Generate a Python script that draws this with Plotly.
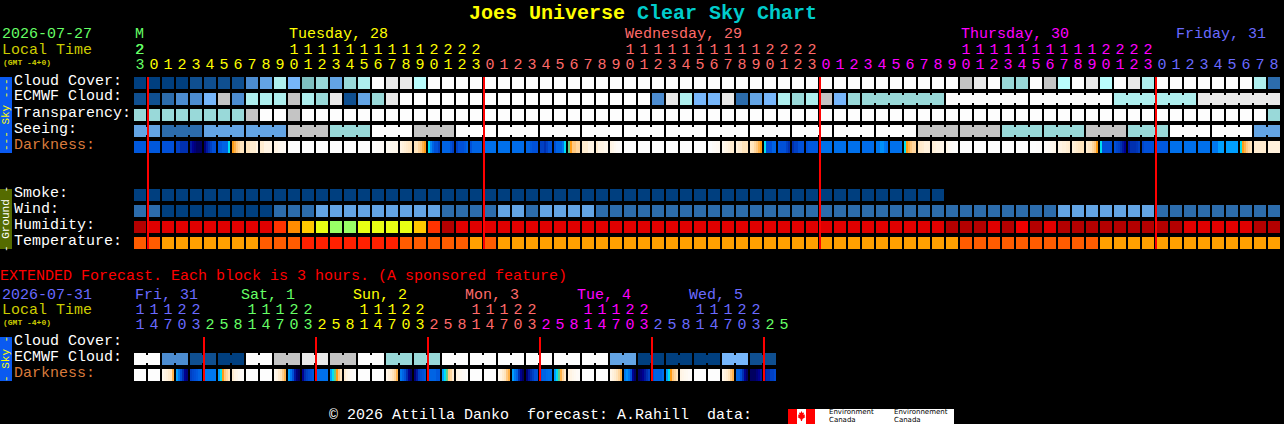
import plotly.graph_objects as go

W, H = 1284, 424
MONO = "Liberation Mono"

# ---- palette codes for the block rows
PALETTE = {
    "A": "#003f7f", "B": "#0f4f90", "C": "#2c6cac", "D": "#4c8cd0", "E": "#63a4e4",
    "F": "#76b6fa", "G": "#7fbfbf", "H": "#99d9d9", "I": "#aeeeee", "J": "#b9fdfd",
    "K": "#c4c4c4", "L": "#e9e9e9", "M": "#fdfdfd",
    "n": "#b40000", "o": "#e00000", "p": "#ff3300", "q": "#ff8c00", "r": "#ffc800",
    "s": "#e8ff14", "t": "#99ff66", "x": "#f00000",
    "u": "#ff5c00", "v": "#ffa000", "w": "#ff2000",
}

# ---- main forecast rows, one letter per hour
CLOUD = ("AAAABBBB" "DEIFGHEHIMLLJ" "MMMMMMMMMM" "MMMMMMMMMM" "MMMMMMMMMM" "MMMMMMMM"
         "KLMHHMKJMLJMLI" "MMMMMMM" "IC")
ECMWF = ("BBCDDFKDIIIKIHLBEHLMM" "MMMMMMMMMMMMMMMM" "DLIFFLCEFIHIKFH"
         "HHHHHH" "MMMMMMMMMMMM" "IIIIII" "LLLLLL")
TRANSP = ("HHHHHHHH" "KMMK" "MMMMMMMMMM" "MMMMMMMMMM" "MMMMMMMMMM" "MMMMMMMMMM"
          "MMMMMMMMMM" "MMMMMMMMMM" "MMMMMMMMM" "H")
SEEING = ("EE" "CCC" "EEE" "EEE" "KKK" "HHH" "MMM" "KKK" "MMMMMMMMMM" "MMMMMMMMMM"
          "MMMMMMMMMM" "MMM" "KKK" "KKK" "HHH" "HHH" "KKK" "HHH" "MMM" "MMM" "EE")
SMOKE = ("AAAAAAAAAA" "AAAAAAAAAA" "AAAAAAAAAA" "AAAAAAAAAA" "AAAAAAAAAA" "AAAAAAAA")
WIND = ("CC" "AAAAAAAA" "CCC" "EEEEEEEEE" "CCCC" "EE" "C" "EEEE"
        "CCCCCCCCCC" "CCCCCCCCCC" "CCCCCCCCCC" "CCC" "EEEEEEE" "CCCCCCCCC")
HUMID = ("n" "ooooooooo" "pqrsttssssr" "pn" "oooooooooo" "oooooooooo" "oooooooooo" "ooooo"
         "nnn" "o" "n" "x" "n" "o" "nnnnnnnnn" "ooooo" "nn")
TEMP = ("uu" "vvvvvvv" "uuu" "wwwwwww" "uuuuu" "v" "u" "vvvvvvvvvv" "vvvvvvvvvv" "vvvvvvvvvv"
        "vvv" "uuuuuuuuuu" "vvvvvvvvvv" "vvv")
EXT_ECMWF = "MMDDBBAAMMKKLLKKMMHHHH" "MMMMMMMMMMMM" "EEAAAAAAFFBB"

# ---- groups of hours joined together on the row (run lengths)
SEEING_BLOCKS = [2] + [3] * 26 + [2]
ECMWF_BLOCKS = [1] * 52 + [6, 6, 6, 6, 6]
EXT_ECMWF_BLOCKS = [2] * 23

# ---- darkness: level 0 (daylight) .. 10 (full dark); a list = change across the block
DARK = [
    6.8, 6.8, 7, [7.5, 7.5, 8, 8, 8, 8], [8.5, 9, 9.5, 10, 10, 10], [9.5, 8.5, 8, 7.5, 7, 7],
    [6.8, 6.8, 6.5, 6.5, 6.5, 5], [4, 3.5, 3, 2.5, 2, 2], [2, 2, 1.5, 1.5, 1.5, 1],
    [1.5, 1.5, 1, 1, 1, 1], [1, 1, .7, .5, .5, .3], 0, 0, 0, 0, 0, 0,
    [.1, .1, .2, .2, .3, .3], [.5, .5, .6, .7, .7, .8], [1, 1.2, 1.4, 1.6, 1.8, 2],
    [2, 2, 2.5, 3, 3.5, 4], [5, 5.8, 6.5, 7, 7, 7.5], [6.5, 6.5, 6.5, 6.5, 7, 7.5],
    [7.5, 7, 7, 7, 6.8, 6.5], [7, 6.5, 6.5, 6.5, 6.5, 6.5], 6.2, 6.2, 6.3,
    [6.5, 6.5, 6.8, 7, 7, 7], [7.5, 7.5, 8, 7.5, 7, 7], [7, 6.5, 6.5, 6.5, 6, 5],
    [4.5, 4, 3, 3, 2.5, 2.5], [1.5, 1.5, 1.5, 1, 1, 1], [1.5, 1, 1, 1, .7, .7],
    [1, .8, .5, .3, .2, .1], 0, 0, 0, 0, 0, 0, [0, 0, .2, .3, .4, .5],
    [.5, .8, 1, 1.2, 1.5, 1.5], [1.2, 1.5, 1.5, 2, 2, 2], [1.8, 2, 2.5, 3, 3.5, 4],
    [5, 7, 7, 7, 6.5, 6.5], [6.8, 7, 7, 7, 7.5, 8], [8, 7.5, 7.5, 7, 7, 7],
    [7, 6.8, 6.8, 6.8, 6.8, 6.8], 6.2, 6.2, 6.2, 6.3, [6, 6, 5.7, 5.7, 6, 6.2], 6.2,
    [5, 4, 3.5, 3, 2.5, 2.5], [1.8, 1.6, 1.5, 1.2, 1.2, 1.2], [1.3, 1.2, 1, 1, .9, .8],
    [.8, .5, .3, .2, .1, 0], 0, 0, 0, 0, 0, [0, 0, 0, .1, .1, .2], [.2, .3, .4, .5, .6, .8],
    [1, 1, 1.2, 1.2, 1.4, 1.5], [1.2, 1.4, 1.6, 1.8, 2, 2], [1.5, 1.8, 2, 2.5, 3, 4],
    [5, 7, 7, 7, 7, 7], [7, 7.3, 7.5, 8, 8.5, 9], [8.5, 8, 8, 8, 7.8, 7.5],
    [7.3, 7, 7, 7, 7, 7], 6.8, 6.2, 6.2, 6.2, [6, 6, 6, 5.5, 5.5, 5.5], 5.5,
    [5, 4, 3.5, 3, 2.5, 2], 1.5, 1.2,
]
EXT_DARK = [
    0, 0, [.6, 1, 1.2, 1.5, 2, 3.5], [5.5, 6, 7, 8, 9, 9.5], [7.5, 7.2, 7, 6.8, 6.5, 6.5], 6,
    [5.5, 5, 4, 3, 2.5, 2], [1.5, 1, .8, .5, .3, .2], 0, 0, [.6, 1, 1.5, 2, 2.8, 3.5],
    [5.5, 6, 7, 8.5, 9.5, 10], [9, 8, 7.5, 7.2, 7, 6.8], 6.2, [5.5, 5, 4.5, 4, 3, 2],
    [1.5, 1, .7, .3, .2, 0], 0, 0, [.8, 1.2, 1.5, 2, 2.5, 3.5], [6, 6.5, 7, 8, 9, 10],
    [9.5, 8.5, 7.5, 7.2, 7, 6.8], [6.5, 6.5, 6.5, 6.5, 6.8, 6.8], [5.5, 5, 4.5, 3, 2.5, 1.5],
    [1, .8, .5, .3, .2, 0], 0, 0, [.5, 1, 1.5, 2, 3, 3.5], [5.5, 6, 6.5, 8, 9, 10],
    [9.5, 8.5, 8, 7.5, 7, 7], [6.8, 6.5, 6.5, 6.3, 6.2, 6.2], [5.5, 5, 4.5, 3.5, 2.5, 1.5],
    [1, 1, .7, .5, .3, .2], 0, 0, [.8, 1.2, 1.5, 2, 2.5, 3.5], [6, 5.7, 6, 7, 9, 10],
    [10, 9.5, 9, 8.5, 8, 7.5], [7, 6.5, 6.5, 6.5, 6.5, 6.2], [5.5, 5, 4, 3, 2.5, 2],
    [1, .8, .6, .5, .3, .2], 0, 0, [.8, 1.2, 1.5, 2, 3, 3.5], [6.5, 6.5, 7, 8, 9, 10],
    [10, 10, 10, 9.5, 9, 8.5], [8.5, 8, 8, 7.5, 7.5, 7.2],
]
DARK_SCALE = [
    (0, "#fdfdfd"), (1, "#fff4e4"), (2, "#ffe4bc"), (3, "#ffc880"), (4, "#ff9c14"),
    (4.5, "#66cc88"), (5, "#00e0f0"), (5.5, "#00a0ff"), (6, "#0078f0"), (7, "#0050d8"),
    (8, "#0030b0"), (9, "#000090"), (10, "#000060"),
]

# ---- hour labels
HOURS = [23] + list(range(24)) + list(range(24)) + list(range(24)) + [0, 1, 2, 3, 4, 5, 6, 7, 8]
EXT_HOURS = [11, 14, 17, 20, 23, 2, 5, 8] * 5 + [11, 14, 17, 20, 23, 2, 5]
MIDNIGHTS = [1, 25, 49, 73]
EXT_MIDNIGHTS = [5, 13, 21, 29, 37, 45]

GREEN, YEL, SAL, MAG, PER = "#66ff66", "#ffff00", "#ff6a6a", "#ff00ff", "#6a6aff"
DAY_COLORS = [GREEN] + [YEL] * 24 + [SAL] * 24 + [MAG] * 24 + [PER] * 9
EXT_COLORS = ([PER] * 5 + [GREEN] * 8 + [YEL] * 8 + [SAL] * 8 + [MAG] * 8 + [PER] * 8 + [GREEN] * 2)

SKY_LABELS = ["Cloud Cover:", "ECMWF Cloud:", "Transparency:", "Seeing:"]
GROUND_LABELS = ["Smoke:", "Wind:", "Humidity:", "Temperature:"]

# ---- scales: one column is 14 px, one row is 16 px
def col_of(px):
    return (px - 140) / 14

def row_of(py):
    return (py - 83) / 16

letters = list(PALETTE)
n = len(letters)
cscale = []
for i, k in enumerate(letters):
    cscale += [[i / n, PALETTE[k]], [(i + 1) / n, PALETTE[k]]]

def codes(s, width=82):
    return [letters.index(c) for c in s] + [None] * (width - len(s))

def block_map(z, y):
    return go.Heatmap(z=z, x=list(range(len(z[0]))), y=y, zmin=-0.5, zmax=n - 0.5,
                      colorscale=cscale, showscale=False, xgap=2, ygap=4, hoverinfo="skip")

dscale = [[v / 10, c] for v, c in DARK_SCALE]

def dark_map(vals, y):
    xs, zs = [], []
    for i, v in enumerate(vals):
        cells = v if isinstance(v, list) else [v] * 6
        for j in range(7):
            xs.append(i + (2 * j - 5) / 14)
            zs.append(cells[j] if j < 6 else None)
    return go.Heatmap(z=[zs], x=xs, y=[y], zmin=0, zmax=10, colorscale=dscale, showscale=False,
                      ygap=4, hoverinfo="skip")

def bridges(s, blocks, y):
    by = {}
    i = 0
    for b in blocks:
        for k in range(i, i + b - 1):
            seg = by.setdefault(s[k], ([], []))
            seg[0].extend([k + 6 / 14 - 0.01, k + 8 / 14 + 0.01, None])
            seg[1].extend([y, y, None])
        i += b
    return [go.Scatter(x=v[0], y=v[1], mode="lines", hoverinfo="skip", showlegend=False,
                       line=dict(color=PALETTE[k], width=8)) for k, v in by.items()]

fig = go.Figure()
fig.add_trace(block_map([codes(CLOUD), codes(ECMWF), codes(TRANSP), codes(SEEING)], [0, 1, 2, 3]))
fig.add_trace(dark_map(DARK, 4))
fig.add_trace(block_map([codes(SMOKE), codes(WIND), codes(HUMID), codes(TEMP)], [7, 8, 9, 10]))
ext_e, ext_d = row_of(359), row_of(375)
fig.add_trace(block_map([codes(EXT_ECMWF, 46)], [ext_e]))
fig.add_trace(dark_map(EXT_DARK, ext_d))
for t in bridges(ECMWF, ECMWF_BLOCKS, 1) + bridges(SEEING, SEEING_BLOCKS, 3) + bridges(EXT_ECMWF, EXT_ECMWF_BLOCKS, ext_e):
    fig.add_trace(t)

# midnight markers
mx, my = [], []
for m in MIDNIGHTS:
    mx += [m - 0.43, m - 0.43, None]
    my += [row_of(77), row_of(249), None]
for m in EXT_MIDNIGHTS:
    mx += [m - 0.43, m - 0.43, None]
    my += [row_of(337), row_of(381), None]
fig.add_trace(go.Scatter(x=mx, y=my, mode="lines", line=dict(color="#ff0000", width=2),
                         hoverinfo="skip", showlegend=False))

# hour digits
def digits(hours, colors, y_tens, y_ones):
    xs, ys, ts, cs = [], [], [], []
    for i, (h, c) in enumerate(zip(hours, colors)):
        xs.append(i); ys.append(y_ones); ts.append(str(h % 10)); cs.append(c)
        if h >= 10:
            xs.append(i); ys.append(y_tens); ts.append(str(h // 10)); cs.append(c)
    return go.Scatter(x=xs, y=ys, text=ts, mode="text", hoverinfo="skip", showlegend=False,
                      textfont=dict(family=MONO, size=15, color=cs), textposition="middle center")

fig.add_trace(digits(HOURS, DAY_COLORS, row_of(50), row_of(65)))
fig.add_trace(digits(EXT_HOURS, EXT_COLORS, row_of(310), row_of(325)))

def P(x, y):
    return x / W, 1 - y / H

ann = []
def label(text, px, py, color="#ffffff", size=15, bold=False, angle=0, anchor="left", fam=MONO):
    x, y = P(px, py)
    ann.append(dict(text=f"<b>{text}</b>" if bold else text, x=x, y=y, xref="paper", yref="paper",
                    xanchor=anchor, yanchor="middle", showarrow=False, textangle=angle, borderpad=0,
                    font=dict(family=fam, size=size, color=color)))

label("Joes Universe", 468, 13, "#ffff00", 20, True)
label("Clear Sky Chart", 636, 13, "#00cccc", 20, True)

label("2026-07-27", 1, 35, GREEN)
label("Local Time", 1, 50, "#cccc00")
label("(GMT -4+0)", 2, 62, "#cccc00", 8, True)
label("M", 134, 35, GREEN)
label("2", 134, 50, GREEN)
label("Tuesday, 28", 288, 35, YEL)
label("Wednesday, 29", 624, 35, SAL)
label("Thursday, 30", 960, 35, MAG)
label("Friday, 31", 1175, 35, PER)

for k, t in enumerate(SKY_LABELS):
    label(t, 13, 81 + 16 * k)
label("Darkness:", 13, 145, "#d97b3c")
for k, t in enumerate(GROUND_LABELS):
    label(t, 13, 193 + 16 * k)

label("EXTENDED Forecast. Each block is 3 hours. (A sponsored feature)", -1, 276, "#ff0000")
label("2026-07-31", 1, 295, PER)
label("Local Time", 1, 310, "#cccc00")
label("(GMT -4+0)", 2, 322, "#cccc00", 8, True)
for t, px, c in [("Fri, 31", 134, PER), ("Sat, 1", 240, GREEN), ("Sun, 2", 352, YEL),
                 ("Mon, 3", 464, SAL), ("Tue, 4", 576, MAG), ("Wed, 5", 688, PER)]:
    label(t, px, 295, c)
label("Cloud Cover:", 13, 341)
label("ECMWF Cloud:", 13, 357)
label("Darkness:", 13, 373, "#d97b3c")

label("\u00a9 2026 Attilla Danko\u00a0\u00a0forecast: A.Rahill\u00a0\u00a0data:", 328, 415)
label("Environment", 828, 412, "#000000", 7, False, fam="DejaVu Sans")
label("Canada", 828, 420, "#000000", 7, False, fam="DejaVu Sans")
label("Environnement", 893, 412, "#000000", 7, False, fam="DejaVu Sans")
label("Canada", 893, 420, "#000000", 7, False, fam="DejaVu Sans")

label("--- Sky ---", 6, 115, "#ffff00", 11, False, -90, "center")
label("- Ground -", 6, 219, "#ffffff", 11, False, -90, "center")
label("- Sky -", 6, 359, "#ffff00", 11, False, -90, "center")

def rect(x0, y0, x1, y1, color):
    a, b = P(x0, y0)
    c, d = P(x1, y1)
    return dict(type="rect", xref="paper", yref="paper", x0=a, y0=b, x1=c, y1=d,
                fillcolor=color, line=dict(width=0), layer="below")

shapes = [
    rect(0, 77, 12, 153, "#0a5af0"),
    rect(0, 189, 12, 249, "#556b00"),
    rect(0, 337, 12, 381, "#0a5af0"),
    rect(788, 409, 954, 424, "#ffffff"),
    rect(788, 409, 797, 424, "#ff0000"),
    rect(806, 409, 815, 424, "#ff0000"),
]
leaf = [(801.5, 411), (802.5, 413), (804, 412.5), (803.5, 415), (805, 414.5), (804.5, 416.5),
        (805.5, 417), (802.5, 419), (802, 421), (801, 421), (800.5, 419), (797.5, 417),
        (798.5, 416.5), (798, 414.5), (799.5, 415), (799, 412.5), (800.5, 413)]
path = "M " + " L ".join("%.5f %.5f" % P(*p) for p in leaf) + " Z"
shapes.append(dict(type="path", xref="paper", yref="paper", path=path, fillcolor="#ff0000",
                   line=dict(width=0)))

fig.update_layout(
    width=W, height=H, margin=dict(l=0, r=0, t=0, b=0, pad=0),
    paper_bgcolor="#000000", plot_bgcolor="#000000", showlegend=False,
    xaxis=dict(visible=False, range=[col_of(0), col_of(W)], fixedrange=True),
    yaxis=dict(visible=False, range=[row_of(H), row_of(0)], fixedrange=True),
    annotations=ann, shapes=shapes,
)

assert len(CLOUD) == len(ECMWF) == len(TRANSP) == len(SEEING) == 82, (len(CLOUD), len(ECMWF), len(TRANSP), len(SEEING))
assert len(WIND) == len(HUMID) == len(TEMP) == len(HOURS) == 82 and len(SMOKE) == 58, (len(WIND), len(HUMID), len(TEMP), len(HOURS), len(SMOKE))
assert len(DARK) == 82 and len(EXT_DARK) == 46 and len(EXT_ECMWF) == 46, (len(DARK), len(EXT_DARK), len(EXT_ECMWF))

fig.write_html("out.html", config=dict(displayModeBar=False),
               post_script="document.body.style.margin='0';document.body.style.overflow='hidden';")
